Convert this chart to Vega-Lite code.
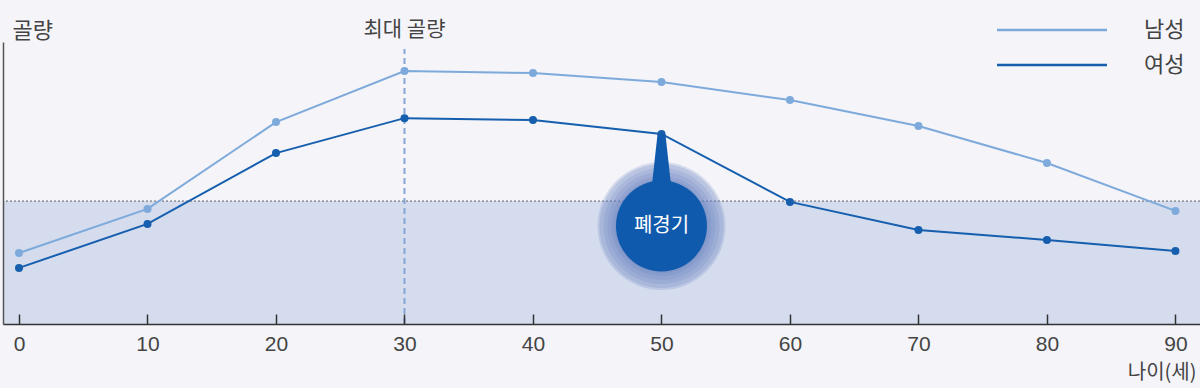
{
  "$schema": "https://vega.github.io/schema/vega-lite/v6.json",
  "width": 1197,
  "height": 282,
  "autosize": {"type": "none"},
  "padding": {"left": 3, "top": 42, "right": 0, "bottom": 64},
  "background": "#f4f4f9",
  "config": {
    "view": {"stroke": null},
    "font": "Noto Sans CJK KR",
    "text": {"font": "Noto Sans CJK KR"}
  },
  "datasets": {
    "bone": [
      {"age": 0, "sex": "남성", "mass": 25.2},
      {"age": 10, "sex": "남성", "mass": 40.8},
      {"age": 20, "sex": "남성", "mass": 71.6},
      {"age": 30, "sex": "남성", "mass": 89.7},
      {"age": 40, "sex": "남성", "mass": 89.0},
      {"age": 50, "sex": "남성", "mass": 85.8},
      {"age": 60, "sex": "남성", "mass": 79.4},
      {"age": 70, "sex": "남성", "mass": 70.2},
      {"age": 80, "sex": "남성", "mass": 57.1},
      {"age": 90, "sex": "남성", "mass": 40.1},
      {"age": 0, "sex": "여성", "mass": 19.9},
      {"age": 10, "sex": "여성", "mass": 35.5},
      {"age": 20, "sex": "여성", "mass": 60.6},
      {"age": 30, "sex": "여성", "mass": 73.0},
      {"age": 40, "sex": "여성", "mass": 72.3},
      {"age": 50, "sex": "여성", "mass": 67.4},
      {"age": 60, "sex": "여성", "mass": 43.3},
      {"age": 70, "sex": "여성", "mass": 33.3},
      {"age": 80, "sex": "여성", "mass": 29.8},
      {"age": 90, "sex": "여성", "mass": 25.9}
    ],
    "one": [{}]
  },
  "data": {"name": "bone"},
  "layer": [
    {
      "data": {"name": "one"},
      "mark": {"type": "rect", "fill": "#d4dcee"},
      "encoding": {
        "y": {"datum": 0, "type": "quantitative"},
        "y2": {"datum": 43.6}
      }
    },
    {
      "data": {"name": "one"},
      "mark": {"type": "rule", "stroke": "#5e5e66", "strokeDash": [2, 2], "strokeWidth": 1},
      "encoding": {"y": {"datum": 43.6, "type": "quantitative"}}
    },
    {
      "data": {"name": "one"},
      "mark": {"type": "rule", "stroke": "#86a6d6", "strokeDash": [6, 4], "strokeWidth": 2},
      "encoding": {
        "x": {"datum": 30, "type": "quantitative"},
        "y": {"datum": 0, "type": "quantitative"},
        "y2": {"datum": 97.5}
      }
    },
    {
      "data": {"name": "one"},
      "mark": {"type": "text", "fontSize": 21, "fontWeight": "normal", "fill": "#444444", "baseline": "middle"},
      "encoding": {
        "x": {"datum": 30, "type": "quantitative"},
        "y": {"datum": 104.3, "type": "quantitative"},
        "text": {"value": "최대 골량"}
      }
    },
    {
      "mark": {"type": "line", "strokeWidth": 2},
      "encoding": {
        "x": {
          "field": "age", "type": "quantitative",
          "scale": {"domain": [-1.245, 91.91], "nice": false, "zero": false},
          "axis": {
            "values": [0, 10, 20, 30, 40, 50, 60, 70, 80, 90],
            "zindex": 1,
            "grid": false,
            "domainColor": "#333333",
            "domainWidth": 1.5,
            "ticks": true,
            "tickSize": -10,
            "tickWidth": 1.5,
            "tickColor": "#333333",
            "labelPadding": 19,
            "labelFontSize": 21,
            "labelFont": "Liberation Sans",
            "labelColor": "#444444",
            "labelBaseline": "top",
            "title": "나이(세)",
            "titleFontSize": 20,
            "titleFontWeight": "normal",
            "titleColor": "#444444",
            "titleAnchor": "end",
            "titleAlign": "right",
            "titleX": 1193,
            "titleY": 48,
            "titleBaseline": "middle"
          }
        },
        "y": {
          "field": "mass", "type": "quantitative",
          "scale": {"domain": [0, 100], "nice": false},
          "axis": {
            "grid": false,
            "ticks": false,
            "labels": false,
            "zindex": 1,
            "domainColor": "#555555",
            "domainWidth": 1.5,
            "title": "골량",
            "titleAngle": 0,
            "titleX": 9,
            "titleY": -12,
            "titleAlign": "left",
            "titleBaseline": "middle",
            "titleFontSize": 22,
            "titleFontWeight": "normal",
            "titleColor": "#444444"
          }
        },
        "color": {
          "field": "sex", "type": "nominal",
          "scale": {"domain": ["남성", "여성"], "range": ["#7eaadb", "#165eae"]},
          "legend": {
            "orient": "none",
            "legendX": 1038,
            "legendY": -23,
            "title": null,
            "padding": 0,
            "symbolType": "M-10,0L10,0",
            "symbolSize": 121,
            "symbolStrokeWidth": 2.5,
            "labelOffset": 81,
            "labelFontSize": 22,
            "labelColor": "#444444",
            "labelFont": "Noto Sans CJK KR",
            "rowPadding": 13
          }
        }
      }
    },
    {
      "mark": {"type": "point", "filled": true, "size": 64, "opacity": 1},
      "encoding": {
        "x": {"field": "age", "type": "quantitative"},
        "y": {"field": "mass", "type": "quantitative"},
        "color": {"field": "sex", "type": "nominal", "legend": null}
      }
    },
    {
      "data": {"name": "one"},
      "mark": {"type": "point", "filled": true, "size": 16384, "fill": "#6a82c0", "opacity": 0.22},
      "encoding": {
        "x": {"datum": 50, "type": "quantitative"},
        "y": {"datum": 34.75, "type": "quantitative"}
      }
    },
    {
      "data": {"name": "one"},
      "mark": {"type": "point", "filled": true, "size": 15376, "fill": "#6a82c0", "opacity": 0.25},
      "encoding": {
        "x": {"datum": 50, "type": "quantitative"},
        "y": {"datum": 34.75, "type": "quantitative"}
      }
    },
    {
      "data": {"name": "one"},
      "mark": {"type": "point", "filled": true, "size": 13456, "fill": "#6a82c0", "opacity": 0.18},
      "encoding": {
        "x": {"datum": 50, "type": "quantitative"},
        "y": {"datum": 34.75, "type": "quantitative"}
      }
    },
    {
      "data": {"name": "one"},
      "mark": {"type": "point", "filled": true, "size": 11664, "fill": "#6a82c0", "opacity": 0.18},
      "encoding": {
        "x": {"datum": 50, "type": "quantitative"},
        "y": {"datum": 34.75, "type": "quantitative"}
      }
    },
    {
      "data": {"name": "one"},
      "mark": {"type": "point", "filled": true, "size": 10000, "fill": "#6a82c0", "opacity": 0.22},
      "encoding": {
        "x": {"datum": 50, "type": "quantitative"},
        "y": {"datum": 34.75, "type": "quantitative"}
      }
    },
    {
      "data": {"name": "one"},
      "mark": {"type": "point", "filled": true, "size": 8836, "fill": "#6a82c0", "opacity": 0.25},
      "encoding": {
        "x": {"datum": 50, "type": "quantitative"},
        "y": {"datum": 34.75, "type": "quantitative"}
      }
    },
    {
      "data": {"name": "one"},
      "mark": {"type": "point", "filled": true, "size": 3136, "fill": "#0f5aad", "opacity": 1, "shape": "M-0.14,-1L0.14,-1L0.36,1L-0.36,1Z"},
      "encoding": {
        "x": {"datum": 50, "type": "quantitative"},
        "y": {"datum": 57.45, "type": "quantitative"}
      }
    },
    {
      "data": {"name": "one"},
      "mark": {"type": "point", "filled": true, "size": 8281, "fill": "#0f5aad", "opacity": 1},
      "encoding": {
        "x": {"datum": 50, "type": "quantitative"},
        "y": {"datum": 34.75, "type": "quantitative"}
      }
    },
    {
      "data": {"name": "one"},
      "mark": {"type": "text", "fontSize": 20, "fontWeight": "normal", "fill": "#ffffff", "baseline": "middle"},
      "encoding": {
        "x": {"datum": 50, "type": "quantitative"},
        "y": {"datum": 34.75, "type": "quantitative"},
        "text": {"value": "폐경기"}
      }
    }
  ]
}
